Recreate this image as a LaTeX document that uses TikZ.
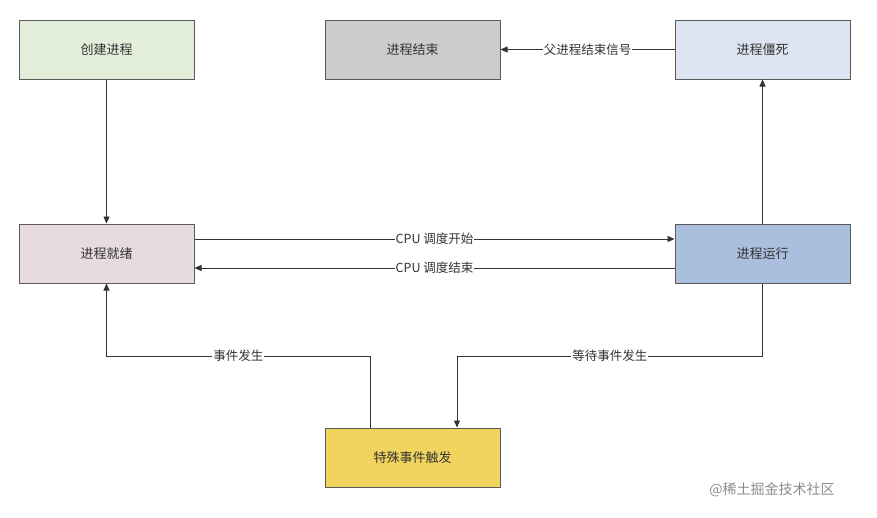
\documentclass[tikz,border=0pt]{standalone}
\usepackage{fontspec}
\setmainfont{Noto Sans CJK SC}
\usetikzlibrary{arrows.meta}
\definecolor{cgreen}{HTML}{E3EEDA}
\definecolor{cgray}{HTML}{CCCCCC}
\definecolor{cpaleblue}{HTML}{DDE4F1}
\definecolor{cpink}{HTML}{E8DAE1}
\definecolor{cblue}{HTML}{AABFDE}
\definecolor{cyellow}{HTML}{F1D45E}
\definecolor{cedge}{HTML}{5A5A5A}
\tikzset{
  state/.style={draw=cedge, line width=1pt, minimum width=175pt, minimum height=59pt, inner sep=0pt, text=black!80, font=\fontsize{13}{15}\selectfont},
  flow/.style={draw=black!80, line width=0.8pt, -{Triangle[length=7pt,width=6pt]}},
  lbl/.style={fill=white, inner sep=1pt, text=black!80, font=\fontsize{12.5}{15}\selectfont}
}
\begin{document}
\begin{tikzpicture}[x=1pt,y=-1pt]
  \useasboundingbox[fill=white] (0,0) rectangle (877,517);
  \node[state, fill=cgreen] (create) at (106.5,49.5) {创建进程};
  \node[state, fill=cgray] (exit) at (412.5,49.5) {进程结束};
  \node[state, fill=cpaleblue] (zombie) at (762.5,49.5) {进程僵死};
  \node[state, fill=cpink] (ready) at (106.5,253.5) {进程就绪};
  \node[state, fill=cblue] (run) at (762.5,253.5) {进程运行};
  \node[state, fill=cyellow] (event) at (412.5,457.5) {特殊事件触发};
  \coordinate (wl) at (106.5,356); \coordinate (wr) at (762.5,356);
  \draw[flow] (create) -- (ready);
  \draw[flow] (zombie) -- node[lbl] {父进程结束信号} (exit);
  \draw[flow] (run) -- (zombie);
  \draw[flow] ([yshift=14.5pt]ready.east) -- node[lbl] {CPU 调度开始} ([yshift=14.5pt]run.west);
  \draw[flow] ([yshift=-14.5pt]run.west) -- node[lbl] {CPU 调度结束} ([yshift=-14.5pt]ready.east);
  \draw[flow] ([xshift=-42.5pt]event.north) |- node[lbl, pos=0.75] {事件发生} (wl) -- (ready.south);
  \draw[flow] (run.south) -- (wr) -| node[lbl, pos=0.25] {等待事件发生} ([xshift=44.5pt]event.north);
  \node[text=black!45, font=\fontsize{14}{16}\selectfont] (mark) at (772,490) {@稀土掘金技术社区};
\end{tikzpicture}
\end{document}
